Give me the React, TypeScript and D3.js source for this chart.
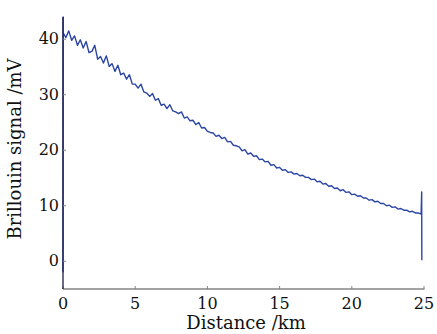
import * as d3 from "d3"

const STEP = 0.2
const signal = [
  41.2, 40.3, 41.5, 39.8, 40.6, 38.9, 39.9, 38.4, 39.6, 37.6,
  37.8, 38.9, 36.4, 36.9, 35.7, 37.0, 35.1, 35.6, 34.2, 35.3,
  33.6, 33.9, 32.8, 33.6, 31.9, 31.9, 31.2, 31.9, 30.5, 30.3,
  29.7, 30.2, 29.0, 29.3, 28.1, 28.3, 27.5, 28.2, 27.1, 26.9,
  26.6, 26.9, 25.8, 26.0, 25.3, 25.4, 24.6, 25.0, 24.0, 24.1,
  23.4, 23.2, 23.1, 22.5, 22.7, 22.1, 22.3, 21.5, 21.6, 20.9,
  20.8, 20.6, 19.9, 20.1, 19.3, 19.5, 18.9, 19.0, 18.3, 18.4,
  17.9, 18.0, 17.3, 17.4, 16.8, 16.9, 16.4, 16.5, 16.0, 16.1,
  15.7, 15.8, 15.4, 15.5, 15.1, 15.1, 14.7, 14.8, 14.3, 14.4,
  13.9, 14.0, 13.5, 13.6, 13.1, 13.2, 12.7, 12.9, 12.4, 12.5,
  12.0, 12.1, 11.7, 11.8, 11.4, 11.4, 11.0, 11.1, 10.7, 10.8,
  10.4, 10.4, 10.0, 10.1, 9.7, 9.8, 9.4, 9.5, 9.2, 9.2,
  8.9, 9.0, 8.7, 8.7, 8.5,
]
// reflections at the two fibre ends [km, mV]
const startSpike: [number, number][] = [[0, -2], [0.01, 44]]
const endSpike: [number, number][] = [[24.84, 12.5], [24.85, 0.2]]

const xTicks = [0, 5, 10, 15, 20, 25]
const yTicks = [0, 10, 20, 30, 40]

const W = 437, H = 334
const m = { left: 63, right: 13, top: 17, bottom: 45 }
const font = "'DejaVu Serif', serif"

export default function App() {
  const x = d3.scaleLinear().domain([0, 25]).range([m.left, W - m.right])
  const y = d3.scaleLinear().domain([-5, 44]).range([H - m.bottom, m.top])

  const pts: [number, number][] = [
    ...startSpike,
    ...signal.map((v, i) => [i * STEP, v] as [number, number]),
    ...endSpike,
  ]
  const line = d3.line<[number, number]>().x(d => x(d[0])).y(d => y(d[1]))

  const x0 = m.left, yb = H - m.bottom
  return (
    <div style={{ position: "fixed", left: 0, top: 0, background: "#fff" }}>
      <svg width={W} height={H} style={{ display: "block" }}>
        <rect width={W} height={H} fill="#fff" />
        <path d={line(pts)!} fill="none" stroke="#2b45a5" strokeWidth={1.4} strokeLinejoin="round" />

        {/* bottom axis */}
        <line x1={x0} x2={x(25) + 0.5} y1={yb} y2={yb} stroke="#858585" strokeWidth={1.3} />
        {xTicks.map(t => (
          <g key={t}>
            <line x1={x(t)} x2={x(t)} y1={yb} y2={yb - 3} stroke="#858585" />
            <text x={x(t)} y={yb + 20} textAnchor="middle" fontFamily={font} fontSize={16} fill="#111">{t}</text>
          </g>
        ))}

        {/* left axis */}
        <line x1={x0} x2={x0} y1={m.top} y2={yb} stroke="#1c1c48" strokeWidth={1.3} />
        {yTicks.map(t => (
          <g key={t}>
            <line x1={x0} x2={x0 + 3} y1={y(t)} y2={y(t)} stroke="#858585" />
            <text x={x0 - 4} y={y(t) + 5} textAnchor="end" fontFamily={font} fontSize={16} fill="#111">{t}</text>
          </g>
        ))}

        <text x={246} y={329} textAnchor="middle" fontFamily={font} fontSize={18} fill="#111">Distance /km</text>
        <text transform={`translate(21,149) rotate(-90)`} textAnchor="middle" fontFamily={font} fontSize={18} fill="#111">Brillouin signal /mV</text>
      </svg>
    </div>
  )
}
